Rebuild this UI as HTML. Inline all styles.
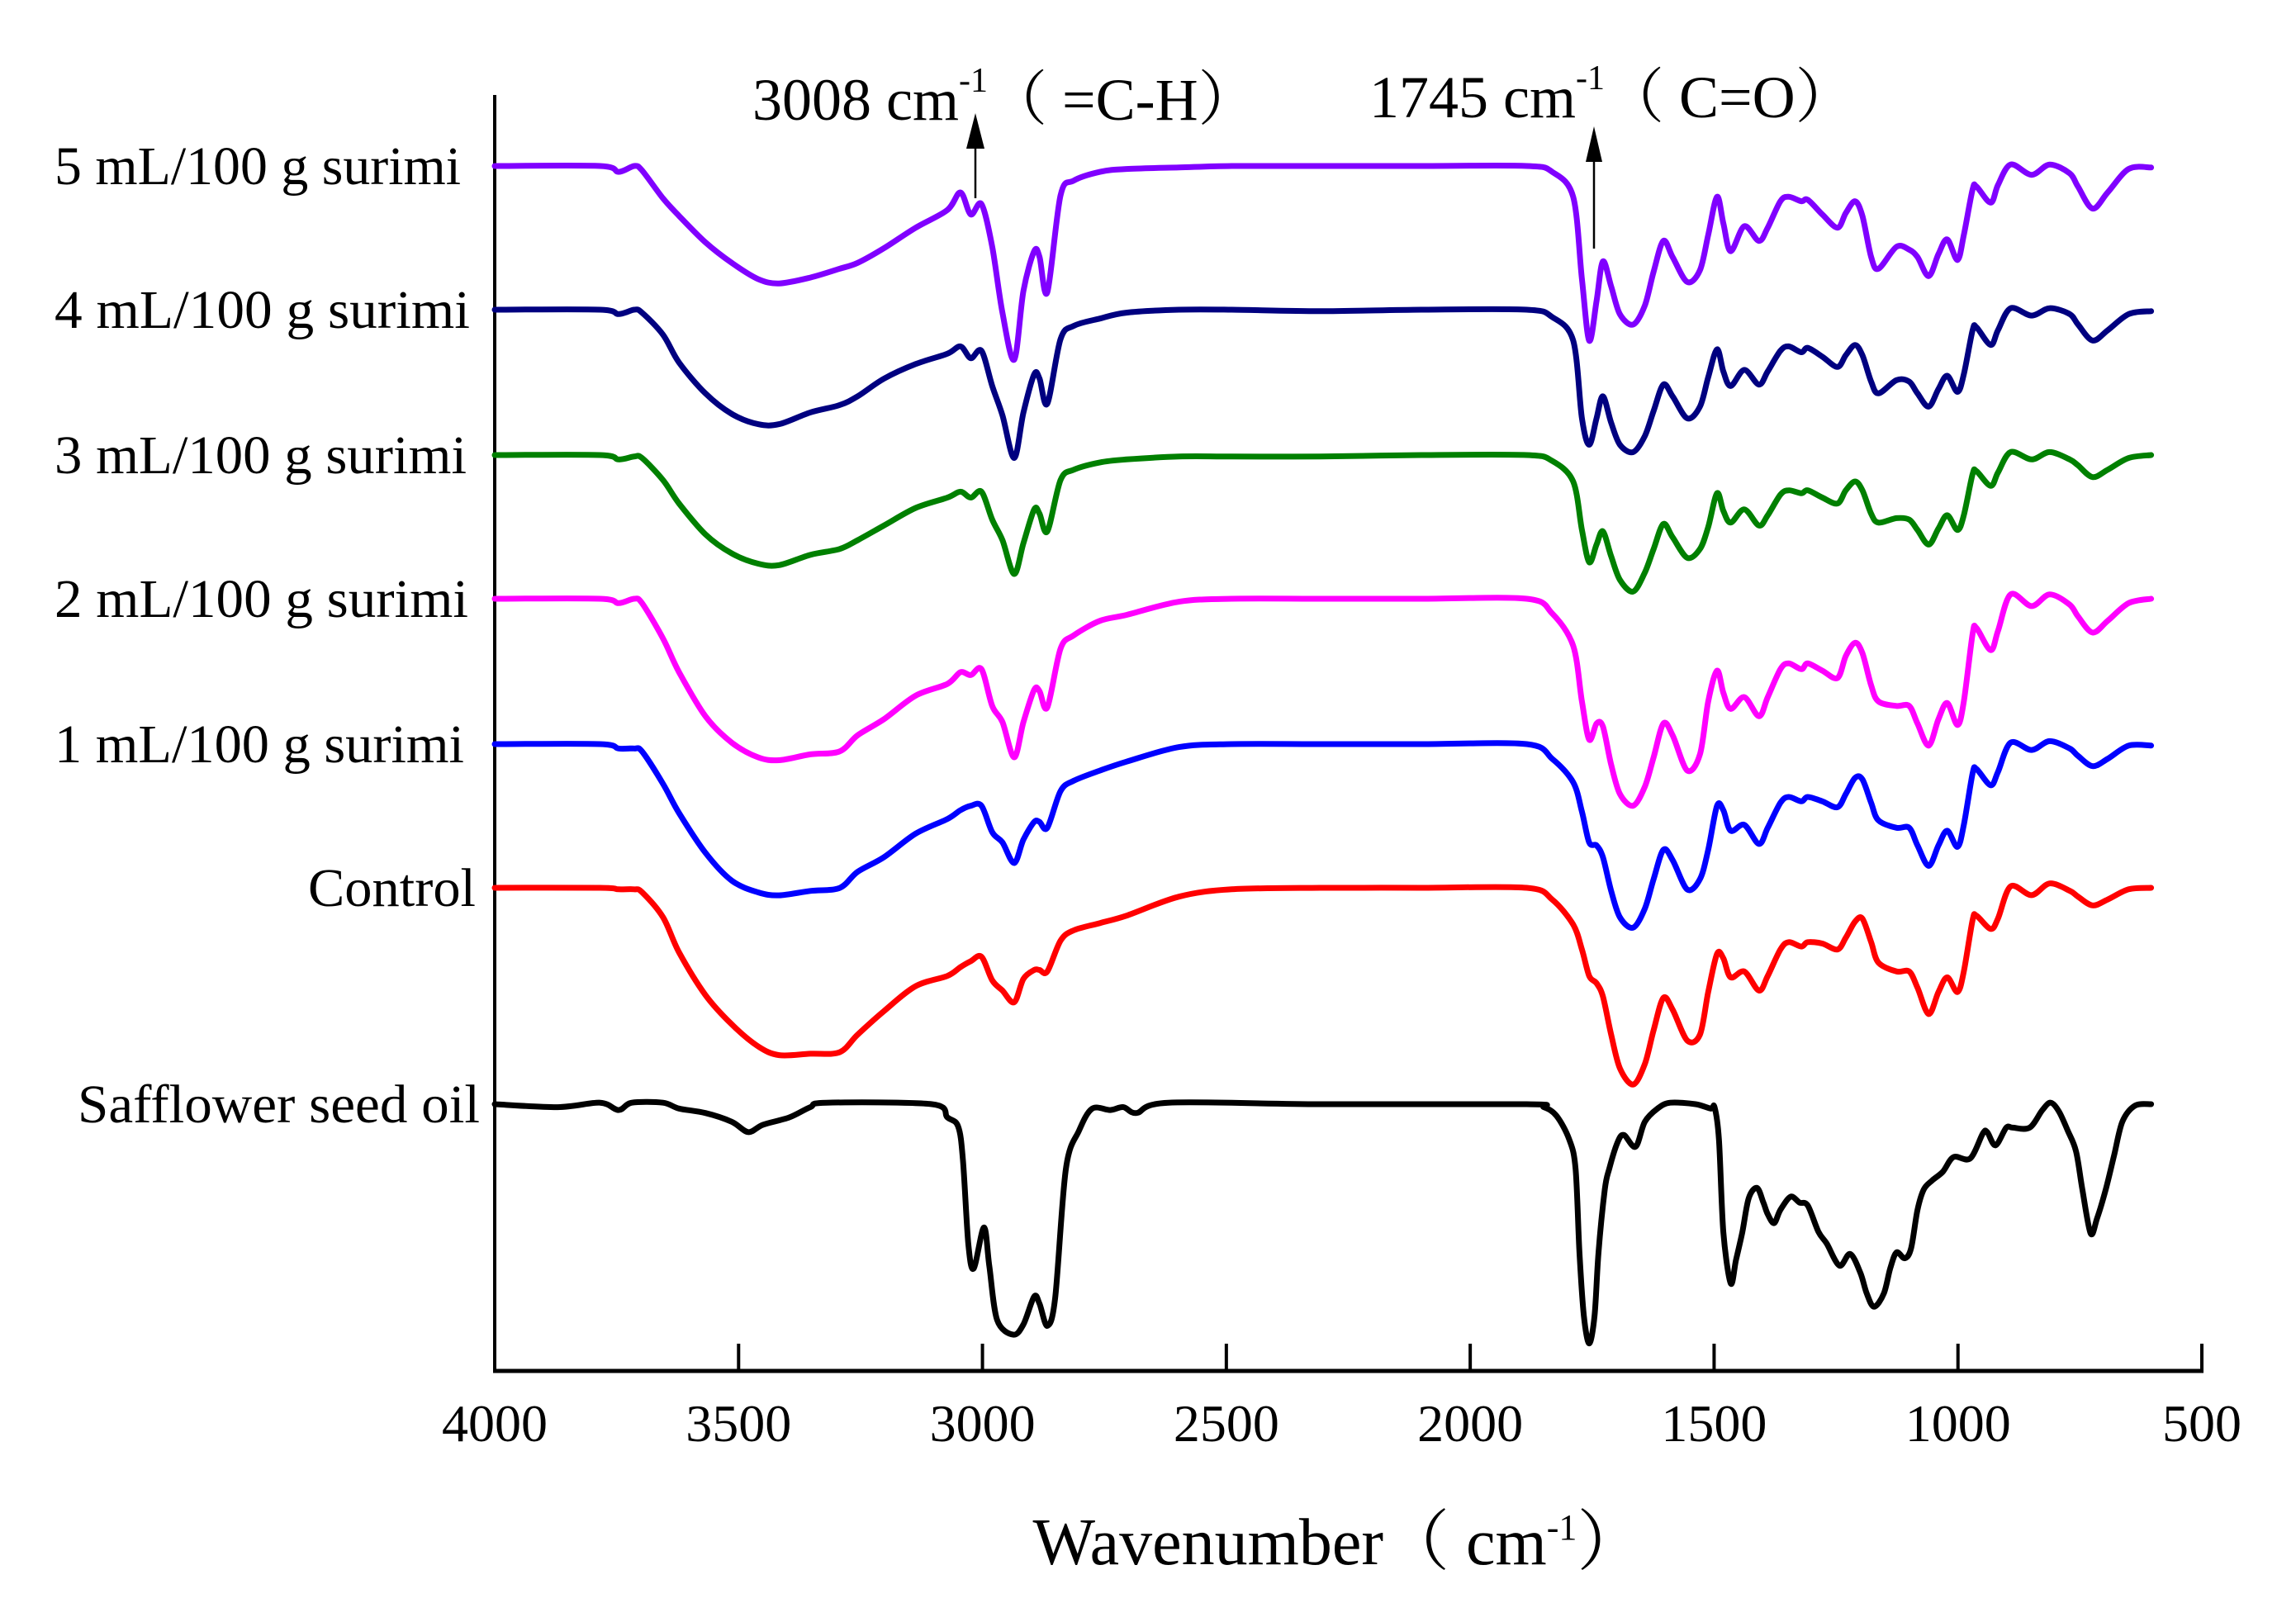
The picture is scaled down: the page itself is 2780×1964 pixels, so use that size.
<!DOCTYPE html>
<html><head><meta charset="utf-8"><title>FTIR spectra</title>
<style>html,body{margin:0;padding:0;background:#fff}svg{display:block}</style></head>
<body>
<svg id="chart" xmlns="http://www.w3.org/2000/svg" width="2780" height="1964" viewBox="0 0 2780 1964" font-family="'Liberation Serif','Noto Serif CJK SC',serif">
<rect width="2780" height="1964" fill="#fff"/>
<g id="axes"></g>
<g id="series"></g>
<g id="labels"></g>
<text x="1620" y="1894" font-size="80" text-anchor="middle" font-family="'Liberation Serif','Noto Serif CJK SC',serif">Wavenumber（ cm<tspan font-size="44" dy="-30">-1</tspan><tspan dy="30">）</tspan></text>
<text x="911" y="145" font-size="72" font-family="'Liberation Serif','Noto Serif CJK SC',serif">3008 cm<tspan font-size="42" dy="-34">-1</tspan><tspan dy="34">（ =C-H）</tspan></text>
<text x="1658" y="142" font-size="72" font-family="'Liberation Serif','Noto Serif CJK SC',serif">1745 cm<tspan font-size="42" dy="-34">-1</tspan><tspan dy="34">（ C=O）</tspan></text>
<g><line x1="1181" y1="170" x2="1181" y2="240" stroke="#000" stroke-width="2.5"/><polygon points="1181,137 1170,180 1192,180" fill="#000"/></g>
<g><line x1="1930" y1="190" x2="1930" y2="301" stroke="#000" stroke-width="2.5"/><polygon points="1930,153 1920,196 1940,196" fill="#000"/></g>
</svg>
<script>
const leftWn=[4000,3784,3746,3714,3698,3655,3622,3568,3514,3460,3417,3353,3293,3256,3202,3137,3072,3045,3024,3002,2980,2959,2935,2916,2894,2883,2867,2840,2813,2759,2705,2597,2489,2308];
const midWn=[2100];
const rightWn=[1884,1832,1789,1771,1756,1741,1728,1711,1693,1666,1642,1624,1604,1585,1555,1529,1512,1494,1481,1466,1438,1408,1390,1364,1347,1321,1308,1278,1247,1230,1211,1196,1178,1163,1126,1100,1083,1060,1040,1022,1001,988,970,962,933,918,892,849,812,771,754,724,693,650,604];
const purpleLeft=[0,0,4,0,3,22,34,52,66,77,80,76,70,66,56,42,30,18,33,26,55,100,132,85,58,62,86,20,10,4,2,1,0,0];
const purpleRight=[0,4,21,77,119,92,65,82,101,108,95,72,51,62,79,71,47,21,39,58,41,51,42,24,21,24,23,33,42,32,24,34,62,70,55,57,62,75,60,50,64,47,16,14,25,13,-1,6,-1,5,14,29,18,2,1];
const navyLeft=[0,0,3,0,2,17,36,57,71,78,78,70,65,59,47,37,30,25,33,28,52,72,101,70,44,47,64,20,11,6,2,0,0,1];
const navyRight=[0,5,21,74,92,74,59,77,92,97,86,69,51,59,74,66,46,27,42,52,41,51,42,28,25,29,26,32,39,31,24,31,49,57,48,49,57,66,54,45,56,44,14,12,24,14,-1,4,-1,3,10,21,14,3,1];
const greenLeft=[0,0,3,1,2,17,33,54,67,74,75,68,64,58,48,36,29,25,29,25,44,58,81,60,37,40,52,17,10,5,3,1,1,1];
const greenRight=[0,4,18,51,73,61,52,69,85,93,80,64,47,56,70,64,49,26,38,46,37,48,41,27,24,26,24,29,33,24,18,24,40,46,43,44,51,61,50,41,51,41,13,11,21,12,-2,3,-2,3,7,15,10,2,0];
const magentaLeft=[0,0,3,0,3,27,50,80,98,108,110,106,104,93,82,66,58,50,52,48,73,84,108,84,62,63,74,34,25,15,11,2,0,0];
const magentaRight=[0,10,32,70,96,85,87,113,133,141,128,108,85,93,117,106,70,49,64,75,67,80,67,48,44,48,44,49,54,39,30,37,59,70,73,73,85,100,82,71,86,70,24,20,35,22,-3,5,-3,4,12,23,15,3,0];
const blueLeft=[0,0,3,3,5,27,47,74,93,101,103,100,98,87,77,61,51,45,42,42,60,67,81,65,53,53,57,32,25,18,12,2,0,0];
const blueRight=[0,10,26,46,67,69,77,100,118,125,112,92,72,79,99,92,72,42,45,59,55,68,57,40,36,39,36,39,43,34,23,24,40,52,57,57,69,83,69,59,70,55,20,17,28,19,-1,4,-2,3,8,15,10,1,1];
const redLeft=[0,0,1,1,3,20,44,73,93,108,114,113,112,100,84,67,60,54,50,47,63,70,78,62,56,56,57,36,29,24,19,6,1,0];
const redRight=[0,8,25,42,60,65,74,100,123,134,120,97,75,83,104,100,71,45,48,61,57,70,60,42,37,40,37,38,42,34,23,21,37,51,57,57,68,86,71,61,71,57,22,19,28,21,-1,5,-3,2,6,12,8,1,0];
const blackWn=[4000,3871,3784,3746,3719,3655,3622,3568,3514,3480,3450,3396,3353,3320,3104,3072,3050,3040,3029,3018,2997,2986,2970,2937,2916,2894,2883,2867,2851,2829,2802,2775,2738,2711,2684,2619,2308,
1884,1849,1823,1797,1784,1776,1767,1756,1745,1737,1724,1715,1698,1685,1661,1642,1616,1590,1538,1507,1499,1490,1481,1466,1455,1442,1429,1412,1399,1390,1377,1364,1343,1325,1308,1286,1269,1243,1221,1200,1187,1172,1152,1139,1126,1109,1096,1083,1070,1053,1031,1009,975,949,940,923,901,888,853,827,810,793,775,758,745,728,715,697,680,663,637,604];
const blackVal=[0,2,-1,4,-1,-1,3,6,12,19,14,9,2,-1,0,9,15,38,95,112,84,110,147,157,150,131,136,151,132,44,18,3,4,2,6,-1,0,
0,2,8,24,44,101,144,163,144,101,58,44,26,21,29,12,3,-1,0,3,2,24,87,122,106,87,64,57,67,75,81,72,63,67,69,87,95,110,102,115,129,138,129,112,101,105,98,72,58,52,46,36,37,20,19,28,16,16,16,4,-1,5,18,32,58,88,78,58,35,12,1,0];
const xTicks=[4000,3500,3000,2500,2000,1500,1000,500];
const seriesNames=["5 mL/100 g surimi","4 mL/100 g surimi","3 mL/100 g surimi","2 mL/100 g surimi","1 mL/100 g surimi","Control","Safflower seed oil"];

const NS="http://www.w3.org/2000/svg";
const X0=599,X1=2666,Y_AX=1660;
function xs(w){return X0+(4000-w)*(X1-X0)/3500;}
const UNIT=1.7775;
const cfg=[
 {c:"#8000ff",b:201,l:66,r:558,k:"series-5ml"},
 {c:"#000080",b:375,l:66,r:569,k:"series-4ml"},
 {c:"#008000",b:551,l:66,r:565,k:"series-3ml"},
 {c:"#ff00ff",b:725,l:66,r:567,k:"series-2ml"},
 {c:"#0000ff",b:901,l:66,r:562,k:"series-1ml"},
 {c:"#ff0000",b:1075,l:373,r:576,k:"series-control"},
 {c:"#000000",b:1337,l:94,r:581,k:"series-safflower-oil"}];
const colWn=leftWn.concat(midWn,rightWn);
const sets=[
 purpleLeft.concat([0],purpleRight),
 navyLeft.concat([0],navyRight),
 greenLeft.concat([0],greenRight),
 magentaLeft.concat([0],magentaRight),
 blueLeft.concat([0],blueRight),
 redLeft.concat([0],redRight)];
function pathD(pts){
 let d="M"+pts[0][0].toFixed(1)+","+pts[0][1].toFixed(1);
 for(let i=0;i<pts.length-1;i++){
  const p0=pts[Math.max(0,i-1)],p1=pts[i],p2=pts[i+1],p3=pts[Math.min(pts.length-1,i+2)];
  const t=0.16;
  const c1x=p1[0]+(p2[0]-p0[0])*t,c1y=p1[1]+(p2[1]-p0[1])*t;
  const c2x=p2[0]-(p3[0]-p1[0])*t,c2y=p2[1]-(p3[1]-p1[1])*t;
  d+=" C"+c1x.toFixed(1)+","+c1y.toFixed(1)+" "+c2x.toFixed(1)+","+c2y.toFixed(1)+" "+p2[0].toFixed(1)+","+p2[1].toFixed(1);
 }
 return d;
}
const sg=document.getElementById("series");
const lg=document.getElementById("labels");
cfg.forEach((s,i)=>{
 const wn=i<6?colWn:blackWn;
 const v=i<6?sets[i]:blackVal;
 const pts=wn.map((w,j)=>[xs(w),s.b+v[j]*UNIT]);
 const p=document.createElementNS(NS,"path");
 p.setAttribute("d",pathD(pts));
 p.setAttribute("fill","none");
 p.setAttribute("stroke",s.c);
 p.setAttribute("stroke-width","7");
 p.setAttribute("stroke-linejoin","round");
 p.setAttribute("stroke-linecap","round");
 
 
 sg.appendChild(p);
 const t=document.createElementNS(NS,"text");
 t.setAttribute("x",s.l);
 t.setAttribute("y",s.b+22);
 t.setAttribute("font-size","66");
 t.setAttribute("textLength",s.r-s.l);
 t.setAttribute("lengthAdjust","spacingAndGlyphs");
 t.textContent=seriesNames[i];
 
 
 lg.appendChild(t);
});
const ag=document.getElementById("axes");
const yl=document.createElementNS(NS,"line");
yl.setAttribute("x1",X0);yl.setAttribute("x2",X0);yl.setAttribute("y1",115);yl.setAttribute("y2",Y_AX);
yl.setAttribute("stroke","#000");yl.setAttribute("stroke-width","4");


ag.appendChild(yl);
const xl=document.createElementNS(NS,"line");
xl.setAttribute("x1",X0-2);xl.setAttribute("x2",X1+2);xl.setAttribute("y1",Y_AX);xl.setAttribute("y2",Y_AX);
xl.setAttribute("stroke","#000");xl.setAttribute("stroke-width","5");


ag.appendChild(xl);
xTicks.forEach(w=>{
 const x=xs(w);
 const tk=document.createElementNS(NS,"line");
 tk.setAttribute("x1",x);tk.setAttribute("x2",x);tk.setAttribute("y1",Y_AX);tk.setAttribute("y2",Y_AX-33);
 tk.setAttribute("stroke","#000");tk.setAttribute("stroke-width","4");
 
 
 ag.appendChild(tk);
 const tl=document.createElementNS(NS,"text");
 tl.setAttribute("x",x);tl.setAttribute("y",1745);
 tl.setAttribute("font-size","64");tl.setAttribute("text-anchor","middle");
 tl.textContent=String(w);
 
 
 ag.appendChild(tl);
});
</script>
</body></html>
